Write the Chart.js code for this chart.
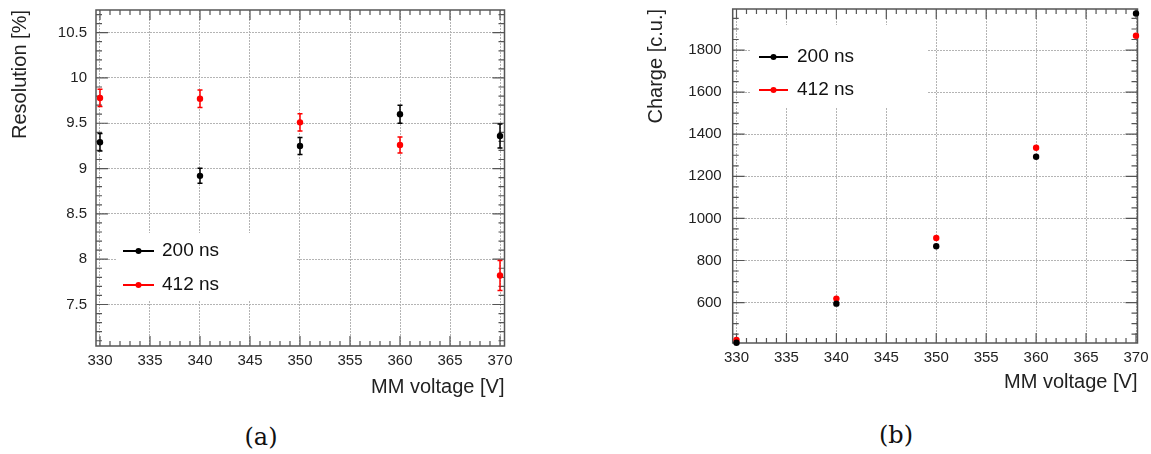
<!DOCTYPE html>
<html>
<head>
<meta charset="utf-8">
<script src="https://cdn.jsdelivr.net/npm/chart.js@4.4.0/dist/chart.umd.min.js"></script>
<style>
  body { margin: 0; background: #fff; width: 1151px; height: 454px; position: relative; overflow: hidden; }
  canvas { position: absolute; top: 0; }
  #resChart { left: 0; }
  #chargeChart { left: 590px; }
  .caption { position: absolute; font-family: "DejaVu Serif", serif; font-size: 24px; color: #111; transform: translate(-50%, -50%); }
</style>
</head>
<body>
<canvas id="resChart" width="560" height="400"></canvas>
<canvas id="chargeChart" width="561" height="400"></canvas>
<div class="caption" style="left:261px; top:437px">(a)</div>
<div class="caption" style="left:896px; top:435px">(b)</div>
<script>
// data
const voltage = [330, 340, 350, 360, 370];
const res200 = [9.29, 8.92, 9.25, 9.6, 9.36];
const res200Err = [0.096, 0.083, 0.094, 0.099, 0.132];
const res412 = [9.78, 9.77, 9.51, 9.26, 7.82];
const res412Err = [0.096, 0.096, 0.094, 0.088, 0.166];
const charge200 = [409, 595, 868, 1293, 1974];
const charge412 = [423, 619, 907, 1336, 1868];

const voltTicks = [330, 335, 340, 345, 350, 355, 360, 365, 370];
const resTicks = [7.5, 8, 8.5, 9, 9.5, 10, 10.5];
const chargeTicks = [600, 800, 1000, 1200, 1400, 1600, 1800];

Chart.defaults.font.family = '"Liberation Sans", Arial, sans-serif';
Chart.defaults.color = "#222";

const toPoints = (xs, ys) => xs.map((x, i) => ({ x: x, y: ys[i] }));

// ROOT style frame, inner ticks, legend box and error bars
const rootStyle = {
  id: "rootStyle",
  beforeDatasetsDraw(chart, args, opts) {
    const { ctx, chartArea: a } = chart;
    const xs = chart.scales.x, ys = chart.scales.y;
    ctx.save();

    // legend
    const lg = opts.legend;
    ctx.fillStyle = "#fff";
    ctx.fillRect(lg.box[0], lg.box[1], lg.box[2], lg.box[3]);
    chart.data.datasets.forEach((ds, i) => {
      const yy = lg.rows[i];
      ctx.strokeStyle = ds.borderColor;
      ctx.lineWidth = 2;
      ctx.beginPath();
      ctx.moveTo(lg.line[0], yy);
      ctx.lineTo(lg.line[1], yy);
      ctx.stroke();
      ctx.fillStyle = ds.borderColor;
      ctx.beginPath();
      ctx.arc((lg.line[0] + lg.line[1]) / 2, yy, 3, 0, Math.PI * 2);
      ctx.fill();
      ctx.fillStyle = "#111";
      ctx.font = '19px "Liberation Sans", Arial, sans-serif';
      ctx.textBaseline = "middle";
      ctx.textAlign = "left";
      ctx.fillText(ds.label, lg.text, yy);
    });

    // frame
    ctx.strokeStyle = "#555";
    ctx.lineWidth = 1.5;
    ctx.strokeRect(a.left, a.top, a.right - a.left, a.bottom - a.top);

    // ticks
    ctx.lineWidth = 1.2;
    const steps = (min, max, step) => {
      const out = [];
      for (let k = Math.ceil(min / step - 1e-9); k * step <= max + 1e-9; k++) out.push(k * step);
      return out;
    };
    const isMajor = (v, m) => Math.abs(v / m - Math.round(v / m)) < 1e-6;
    ctx.beginPath();
    steps(xs.min, xs.max, opts.xMinor).forEach((v) => {
      const px = xs.getPixelForValue(v);
      const len = isMajor(v, opts.xMajor) ? 10 : 5;
      ctx.moveTo(px, a.bottom); ctx.lineTo(px, a.bottom - len);
      ctx.moveTo(px, a.top); ctx.lineTo(px, a.top + len);
    });
    steps(ys.min, ys.max, opts.yMinor).forEach((v) => {
      const py = ys.getPixelForValue(v);
      const len = isMajor(v, opts.yMajor) ? 12 : 6;
      ctx.moveTo(a.left, py); ctx.lineTo(a.left + len, py);
      ctx.moveTo(a.right, py); ctx.lineTo(a.right - len, py);
    });
    ctx.stroke();

    // error bars
    (opts.errors || []).forEach((errs, i) => {
      const ds = chart.data.datasets[i];
      ctx.strokeStyle = ds.borderColor;
      ctx.lineWidth = 1.5;
      ctx.beginPath();
      ds.data.forEach((p, j) => {
        const px = xs.getPixelForValue(p.x);
        const lo = ys.getPixelForValue(p.y - errs[j]);
        const hi = ys.getPixelForValue(p.y + errs[j]);
        ctx.moveTo(px, lo); ctx.lineTo(px, hi);
        ctx.moveTo(px - 2.5, lo); ctx.lineTo(px + 2.5, lo);
        ctx.moveTo(px - 2.5, hi); ctx.lineTo(px + 2.5, hi);
      });
      ctx.stroke();
    });
    ctx.restore();
  },
};

function makeScales(o) {
  const gridStyle = { color: "#b4b4b4", lineWidth: 1, drawTicks: false };
  return {
    x: {
      type: "linear",
      min: o.xMin,
      max: o.xMax,
      grid: gridStyle,
      border: { display: false, dash: [2, 1] },
      afterBuildTicks: (axis) => { axis.ticks = voltTicks.map((v) => ({ value: v })); },
      afterFit: (axis) => { axis.height = o.xHeight; axis.paddingLeft = 0; axis.paddingRight = 0; },
      ticks: { font: { size: 15 }, padding: 6, maxRotation: 0, autoSkip: false, callback: (v) => String(v) },
      title: { display: true, text: "MM voltage [V]", align: "end", font: { size: 20 }, padding: { top: 0, bottom: o.xTitlePad } },
    },
    y: {
      type: "linear",
      min: o.yMin,
      max: o.yMax,
      grid: gridStyle,
      border: { display: false, dash: [2, 1] },
      afterBuildTicks: (axis) => { axis.ticks = o.yTicks.map((v) => ({ value: v })); },
      afterFit: (axis) => { axis.width = o.yWidth; axis.paddingTop = 0; axis.paddingBottom = 0; },
      ticks: { font: { size: 15 }, padding: o.yTickPad, autoSkip: false, callback: (v) => String(v) },
      title: { display: true, text: o.yTitle, align: "end", font: { size: 20 }, padding: { top: 4, bottom: 0 } },
    },
  };
}

const pointStyle = (color) => ({
  borderColor: color,
  backgroundColor: color,
  pointRadius: 3.2,
  pointBorderWidth: 0,
  showLine: false,
  clip: false,
});

new Chart(document.getElementById("resChart"), {
  type: "scatter",
  data: {
    datasets: [
      { label: "200 ns", data: toPoints(voltage, res200), ...pointStyle("#000000") },
      { label: "412 ns", data: toPoints(voltage, res412), ...pointStyle("#ff0000") },
    ],
  },
  options: {
    responsive: false,
    animation: false,
    layout: { padding: { left: 4, top: 10, right: 55.5, bottom: 0 } },
    scales: makeScales({
      xMin: 329.6, xMax: 370.45, yMin: 7.042, yMax: 10.75,
      yTicks: resTicks, yTitle: "Resolution [%]",
      xHeight: 54, yWidth: 92, xTitlePad: 1, yTickPad: 9,
    }),
    plugins: {
      legend: { display: false },
      tooltip: { enabled: false },
      rootStyle: {
        xMajor: 5, xMinor: 1, yMajor: 0.5, yMinor: 0.1,
        errors: [res200Err, res412Err],
        legend: { box: [117, 233, 179, 67], line: [123, 154], text: 162, rows: [251, 285] },
      },
    },
  },
  plugins: [rootStyle],
});

new Chart(document.getElementById("chargeChart"), {
  type: "scatter",
  data: {
    datasets: [
      { label: "200 ns", data: toPoints(voltage, charge200), ...pointStyle("#000000") },
      { label: "412 ns", data: toPoints(voltage, charge412), ...pointStyle("#ff0000") },
    ],
  },
  options: {
    responsive: false,
    animation: false,
    layout: { padding: { left: 50, top: 9, right: 13.5, bottom: 0 } },
    scales: makeScales({
      xMin: 329.62, xMax: 370.15, yMin: 408, yMax: 1995,
      yTicks: chargeTicks, yTitle: "Charge [c.u.]",
      xHeight: 57, yWidth: 92.7, xTitlePad: 6, yTickPad: 11,
    }),
    plugins: {
      legend: { display: false },
      tooltip: { enabled: false },
      rootStyle: {
        xMajor: 5, xMinor: 1, yMajor: 200, yMinor: 50,
        legend: { box: [160, 25, 177, 83], line: [169, 198], text: 207, rows: [57, 90] },
      },
    },
  },
  plugins: [rootStyle],
});
</script>
</body>
</html>
